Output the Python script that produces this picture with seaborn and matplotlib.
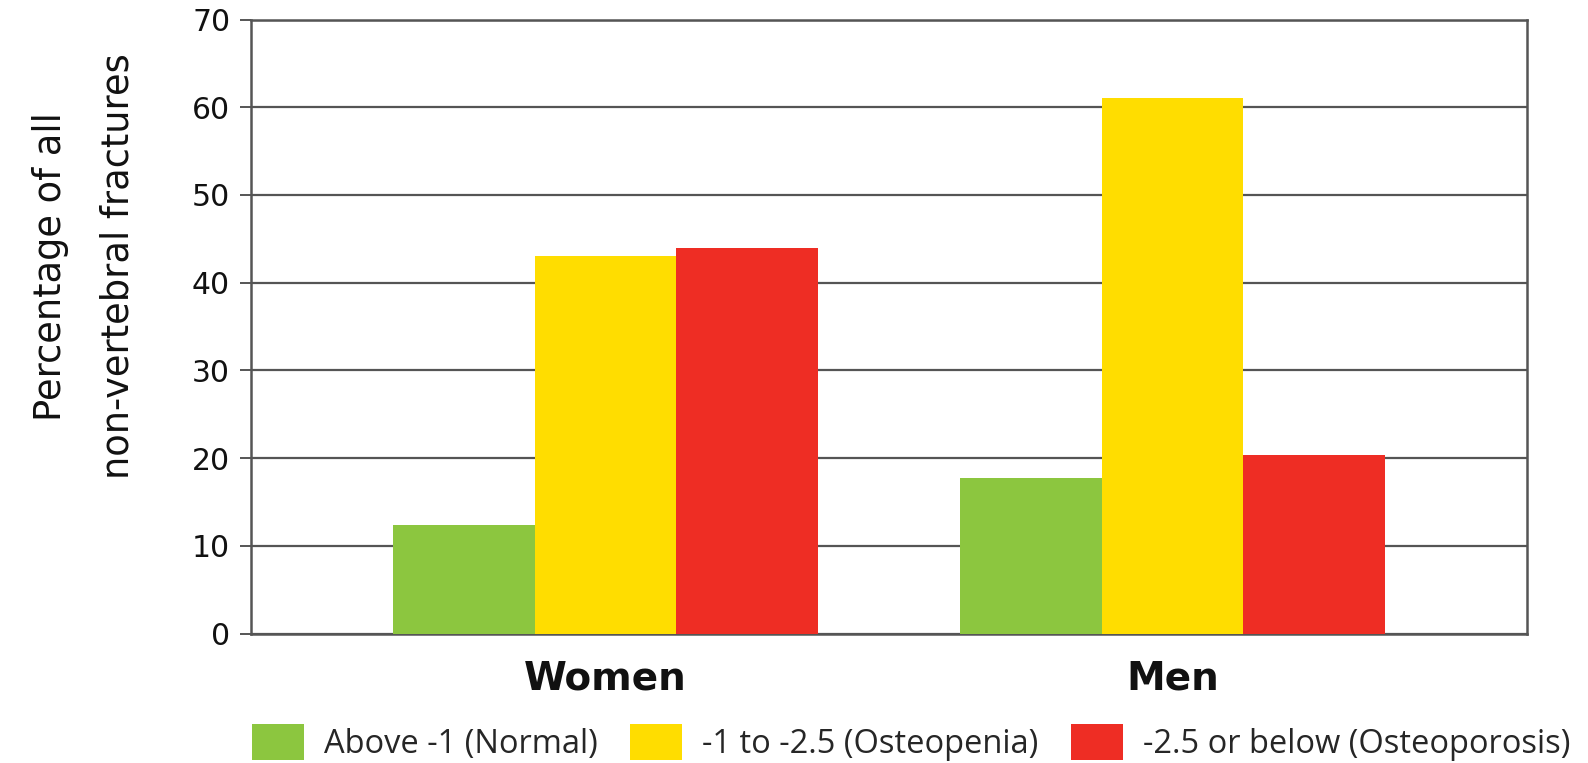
import matplotlib
matplotlib.use("Agg")
import matplotlib.pyplot as plt
import seaborn as sns
import pandas as pd

# Data
groups = ["Women", "Men"]
categories = ["Above -1 (Normal)", "-1 to -2.5 (Osteopenia)", "-2.5 or below (Osteoporosis)"]
normal = [12.4, 17.7]
osteopenia = [43.0, 61.1]
osteoporosis = [44.0, 20.3]
colors = ["#8CC63F", "#FFDD00", "#EE2D24"]
yticks = [0, 10, 20, 30, 40, 50, 60, 70]

rows = []
for cat, vals in zip(categories, [normal, osteopenia, osteoporosis]):
    for g, v in zip(groups, vals):
        rows.append({"group": g, "category": cat, "value": v})
df = pd.DataFrame(rows)

sns.set_style("white")
plt.rcParams["font.family"] = ["DejaVu Sans"]

fig = plt.figure(figsize=(15.88, 7.63), dpi=100)
ax = fig.add_axes([251 / 1588, 1 - 633.5 / 763, (1527 - 251) / 1588, (633.5 - 19.5) / 763])

sns.barplot(data=df, x="group", y="value", hue="category", order=groups,
            hue_order=categories, palette=colors, width=0.75, saturation=1,
            linewidth=0, ax=ax, zorder=3)

ax.set_xlim(-0.625, 1.625)
ax.set_ylim(0, 70)
ax.set_yticks(yticks)
ax.set_xlabel("")
ax.grid(axis="y", color="#555555", linewidth=1.6, zorder=0)
ax.set_axisbelow(True)
for s in ax.spines.values():
    s.set_color("#555555")
    s.set_linewidth(1.8)
    s.set_visible(True)

ax.tick_params(axis="y", direction="out", length=8, width=1.4, color="#555555",
               pad=7, labelsize=21.5, left=True)
ax.tick_params(axis="x", length=0, pad=19)
for lab in ax.get_xticklabels():
    lab.set_fontsize(28)
    lab.set_fontweight("bold")
    lab.set_color("#111111")
for lab in ax.get_yticklabels():
    lab.set_color("#111111")

ax.set_ylabel("Percentage of all\nnon-vertebral fractures",
              linespacing=2.05, color="#111111", fontsize=26.5,
              family=["DejaVu Sans"])
ax.yaxis.label.set_va("center")
ax.yaxis.set_label_coords(-0.131, 0.598)

leg = ax.get_legend()
handles = leg.legend_handles
leg.remove()
fig.legend(handles, categories, loc="upper left",
           bbox_to_anchor=(252 / 1588, 1 - 724 / 763), ncol=3, frameon=False,
           prop={"family": ["Open Sans", "DejaVu Sans"], "size": 23.5},
           handlelength=1.6, handleheight=1.3, handletextpad=0.6,
           columnspacing=1.0, borderpad=0, borderaxespad=0)

fig.savefig("out.png", dpi=100)
